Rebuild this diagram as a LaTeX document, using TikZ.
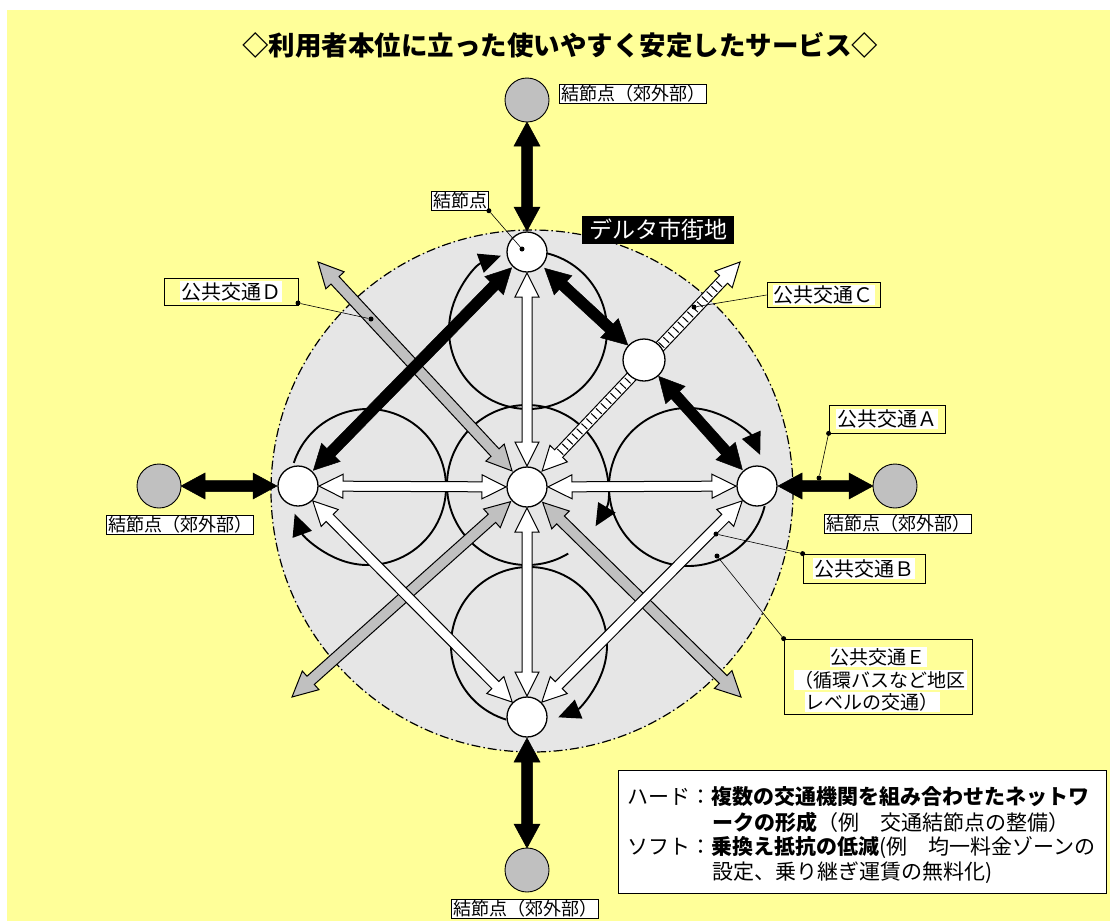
\documentclass[tikz,border=0pt]{standalone}
\usepackage{fontspec}
\setmainfont{Noto Sans CJK JP}
\usetikzlibrary{calc,arrows.meta}
\definecolor{bgyellow}{HTML}{FFFF99}
\definecolor{cityg}{HTML}{E6E6E6}
\definecolor{arrg}{HTML}{C0C0C0}
\pgfdeclarelayer{bgl}
\pgfdeclarelayer{midl}
\pgfsetlayers{bgl,midl,main}
% double-headed block arrow: style, tipA, tipB, shaft half width, head half width, head length
\newcommand\blockarr[6]{%
 \coordinate (baA) at (#2);
 \coordinate (baB) at (#3);
 \coordinate (baP) at ($(baA)!#6!(baB)$);
 \coordinate (baQ) at ($(baB)!#6!(baA)$);
 \filldraw[#1] (baA) -- ($(baP)!#5!90:(baB)$) -- ($(baP)!#4!90:(baB)$)
   -- ($(baQ)!#4!-90:(baA)$) -- ($(baQ)!#5!-90:(baA)$) -- (baB)
   -- ($(baQ)!#5!90:(baA)$) -- ($(baQ)!#4!90:(baA)$)
   -- ($(baP)!#4!-90:(baB)$) -- ($(baP)!#5!-90:(baB)$) -- cycle;}
\begin{document}
\begin{tikzpicture}[x=1pt,y=-1pt,
 nd/.style={circle,draw,fill=white,line width=1.3pt,minimum size=40pt,inner sep=0pt},
 od/.style={circle,draw,fill=arrg,line width=0.9pt,minimum size=44pt,inner sep=0pt},
 loopc/.style={line width=1.9pt,-{Triangle[length=22pt,width=20pt]}},
 blk/.style={fill=black,draw=black,line width=0.5pt},
 wht/.style={fill=white,draw=black,line width=1pt},
 gry/.style={fill=arrg,draw=black,line width=1pt},
 lbox/.style={draw,line width=0.8pt,inner sep=0pt},
 ltxt/.style={fill=white,inner sep=1pt,font=\fontsize{20}{22}\selectfont},
 klabel/.style={draw,fill=white,line width=0.8pt,inner xsep=1.5pt,inner ysep=1pt,font=\fontsize{18}{20}\selectfont},
 dot/.style={circle,fill=black,inner sep=0pt,minimum size=5pt},
 lead/.style={line width=0.6pt},
 legtxt/.style={anchor=west,inner sep=0pt,font=\fontsize{21}{24}\selectfont}]

\path[use as bounding box] (0,0) rectangle (1110,921);

% nodes
\node[nd] (c) at (527,487) {};
\node[nd] (t) at (527,252) {};
\node[nd] (l) at (298,486) {};
\node[nd] (r) at (757,486) {};
\node[nd] (b) at (527,717) {};
\node[nd,minimum size=42pt] (ne) at (644,360) {};
\node[od] (ot) at (527,100) {};
\node[od] (ol) at (159,486) {};
\node[od] (or) at (895,486) {};
\node[od] (ob) at (527,870) {};
\coordinate (gD) at (318,262);
\coordinate (gSW) at (292,697);
\coordinate (gSE) at (741,697);
\coordinate (hC) at (740,262);

\begin{pgfonlayer}{bgl}
\fill[white] (0,0) rectangle (1110,921);
\fill[bgyellow] (7,10) rectangle (1110,921);
\draw[fill=cityg,line width=1.2pt,dash pattern=on 9pt off 3pt on 1.5pt off 3pt] (532,491) circle[radius=261];
\draw[loopc] ($(528,330)+(-77:79)$) arc[start angle=-77,end angle=250,radius=79];
\draw[loopc] ($(688,487)+(14:79)$) arc[start angle=14,end angle=336,radius=79];
\draw[loopc] ($(529,645)+(107:78)$) arc[start angle=107,end angle=428,radius=78];
\draw[loopc] ($(368,487)+(-162:78)$) arc[start angle=-162,end angle=160,radius=78];
\draw[loopc] ($(527,485)+(59:80)$) arc[start angle=59,end angle=391,radius=80];
\end{pgfonlayer}

\begin{pgfonlayer}{midl}
% gray arrows
\blockarr{gry}{$(c)!22pt!(gD)$}{gD}{5.5pt}{12.5pt}{25pt}
\blockarr{gry}{$(c)!22pt!(gSW)$}{gSW}{5.5pt}{12.5pt}{25pt}
\blockarr{gry}{$(c)!22pt!(gSE)$}{gSE}{5.5pt}{12.5pt}{25pt}
% hatched arrow
\blockarr{wht}{$(c)!22pt!(hC)$}{hC}{5.5pt}{12pt}{24pt}
\draw[line width=8pt,dash pattern=on 1pt off 6pt] ($(c)!48pt!(hC)$) -- ($(hC)!26pt!(c)$);
% white arrows
\blockarr{wht}{$(l)!21pt!(c)$}{$(c)!21pt!(l)$}{5pt}{12pt}{24pt}
\blockarr{wht}{$(c)!21pt!(r)$}{$(r)!21pt!(c)$}{5pt}{12pt}{24pt}
\blockarr{wht}{$(t)!21pt!(c)$}{$(c)!21pt!(t)$}{5pt}{12pt}{24pt}
\blockarr{wht}{$(c)!21pt!(b)$}{$(b)!21pt!(c)$}{5pt}{12pt}{24pt}
\blockarr{wht}{$(l)!21pt!(b)$}{$(b)!21pt!(l)$}{5pt}{12pt}{24pt}
\blockarr{wht}{$(r)!21pt!(b)$}{$(b)!21pt!(r)$}{5pt}{12pt}{24pt}
% black arrows
\blockarr{blk}{$(ot)!22pt!(t)$}{$(t)!21pt!(ot)$}{5.5pt}{13pt}{24pt}
\blockarr{blk}{$(ol)!22pt!(l)$}{$(l)!21pt!(ol)$}{5.5pt}{13pt}{24pt}
\blockarr{blk}{$(or)!22pt!(r)$}{$(r)!21pt!(or)$}{5.5pt}{13pt}{24pt}
\blockarr{blk}{$(ob)!22pt!(b)$}{$(b)!21pt!(ob)$}{5.5pt}{13pt}{24pt}
\blockarr{blk}{$(l)!22pt!(t)$}{$(t)!22pt!(l)$}{5.5pt}{13pt}{25pt}
\blockarr{blk}{$(t)!24pt!(ne)$}{$(ne)!22pt!(t)$}{5.5pt}{13pt}{25pt}
\blockarr{blk}{$(ne)!22pt!(r)$}{$(r)!22pt!(ne)$}{5.5pt}{13pt}{25pt}
\end{pgfonlayer}

% title
\node[font=\fontsize{26.5}{30}\selectfont\bfseries] (title) at (560,45) {◇利用者本位に立った使いやすく安定したサービス◇};

% outer node labels
\node[klabel] (lt) at (633,94) {結節点（郊外部）};
\node[klabel] (ll) at (180,525) {結節点（郊外部）};
\node[klabel] (lr) at (898,524) {結節点（郊外部）};
\node[klabel] (lb) at (525,909) {結節点（郊外部）};

% 結節点 label
\node[klabel] (kt) at (460,201) {結節点};
\node[dot] (kd1) at (kt.south east) {};
\node[dot] (kd2) at ($(t)+(-5,-3)$) {};
\draw[lead] (kd1) -- (kd2);

% デルタ市街地
\node[fill=black,text=white,font=\fontsize{23}{25}\selectfont,inner xsep=7pt,inner ysep=3pt] (dl) at (658,230) {デルタ市街地};

% 公共交通D
\node[lbox,minimum width=134pt,minimum height=27pt] (bD) at (231,291.5) {};
\node[ltxt] at (bD) {公共交通Ｄ};
\node[dot] (dD1) at (298,303) {};
\node[dot] (dD2) at (371,319) {};
\draw[lead] (dD1) -- (dD2);

% 公共交通C
\node[lbox,minimum width=113pt,minimum height=25pt] (bC) at (823.5,295) {};
\node[ltxt] at (bC) {公共交通Ｃ};
\node[dot] (dC1) at (694,307) {};
\draw[lead] (dC1) -- (bC.west);

% 公共交通A
\node[lbox,minimum width=116pt,minimum height=28pt] (bA) at (887,419) {};
\node[ltxt] at (bA) {公共交通Ａ};
\node[dot] (dA1) at (bA.south west) {};
\node[dot] (dA2) at (819,478) {};
\draw[lead] (dA1) -- (dA2);

% 公共交通B
\node[lbox,minimum width=122pt,minimum height=29pt] (bB) at (864,568.5) {};
\node[ltxt] at (bB) {公共交通Ｂ};
\node[dot] (dB1) at (bB.north west) {};
\node[dot] (dB2) at (716,534) {};
\draw[lead] (dB1) -- (dB2);

% 公共交通E
\node[lbox,minimum width=188pt,minimum height=75pt] (bE) at (878,676.5) {};
\node[ltxt,font=\fontsize{19}{21}\selectfont] at (878,657) {公共交通Ｅ};
\node[ltxt,font=\fontsize{19}{21}\selectfont] at (880,680) {（循環バスなど地区};
\node[ltxt,font=\fontsize{19}{21}\selectfont] at (872,702) {レベルの交通）};
\node[dot] (dE1) at (bE.north west) {};
\node[dot] (dE2) at (717,556) {};
\draw[lead] (dE1) -- (dE2);

% legend
\node[draw,fill=white,line width=1pt,minimum width=488pt,minimum height=123pt,inner sep=0pt] (leg) at (862,831.5) {};
\node[legtxt] (lg1) at (627,797) {ハード：\textbf{複数の交通機関を組み合わせたネットワ}};
\node[legtxt] (lg2) at (712,822) {\textbf{ークの形成}（例　交通結節点の整備）};
\node[legtxt] (lg3) at (627,848) {ソフト：\textbf{乗換え抵抗の低減}(例　均一料金ゾーンの};
\node[legtxt] (lg4) at (712,873) {設定、乗り継ぎ運賃の無料化)};
\end{tikzpicture}
\end{document}
